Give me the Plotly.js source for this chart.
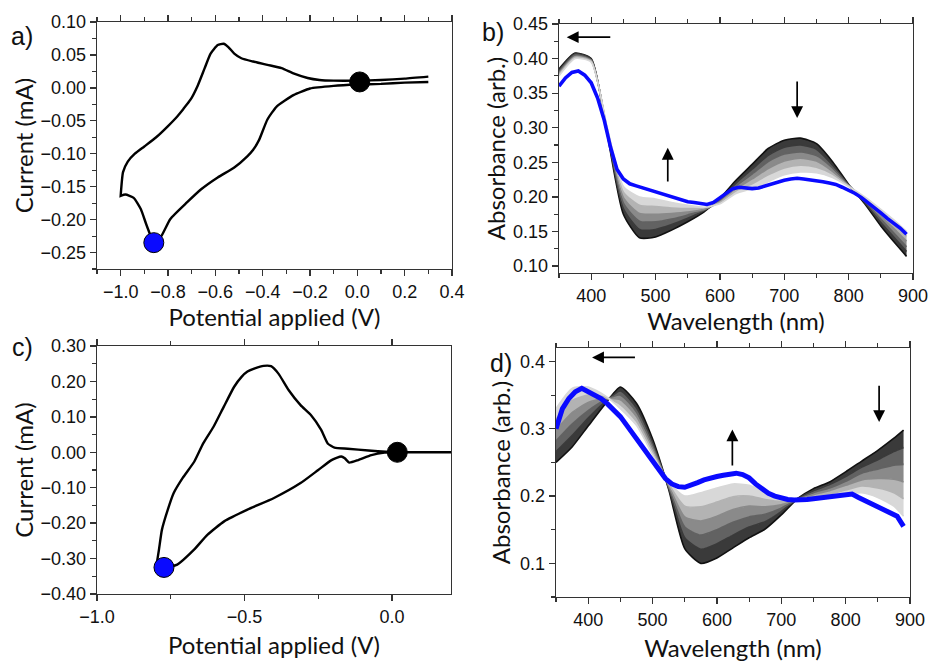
<!DOCTYPE html>
<html><head><meta charset="utf-8">
<script src="https://cdn.plot.ly/plotly-3.0.1.min.js"></script>
<style>html,body{margin:0;padding:0;background:#fff}#chart{width:931px;height:662px}</style>
</head><body><div id="chart"></div>
<script>
// ---------- Panel a: cyclic voltammogram ----------
const cvA_upper_V = [0.30,0.20,0.10,0.00,-0.10,-0.16,-0.21,-0.27,-0.32,-0.38,-0.44,-0.49,-0.52,-0.545,-0.565,-0.59,-0.62,-0.645,-0.675,-0.705,-0.735,-0.76,-0.80,-0.85,-0.90,-0.94,-0.97,-0.99,-1.00];
const cvA_upper_I = [0.017,0.014,0.012,0.011,0.011,0.012,0.015,0.022,0.030,0.035,0.040,0.045,0.052,0.062,0.067,0.065,0.052,0.030,0.003,-0.018,-0.032,-0.043,-0.058,-0.075,-0.089,-0.100,-0.112,-0.128,-0.164];
const cvA_lower_V = [-1.00,-0.98,-0.945,-0.915,-0.89,-0.86,-0.83,-0.79,-0.72,-0.66,-0.59,-0.52,-0.465,-0.44,-0.415,-0.38,-0.34,-0.27,-0.20,-0.10,0.00,0.10,0.20,0.30];
const cvA_lower_I = [-0.164,-0.162,-0.167,-0.184,-0.209,-0.234,-0.226,-0.199,-0.174,-0.154,-0.136,-0.121,-0.104,-0.094,-0.079,-0.048,-0.028,-0.011,-0.001,0.003,0.005,0.006,0.008,0.009];
const cvA_startPt = [0.01, 0.009];
const cvA_endPt = [-0.86, -0.235];

// ---------- Panel c: cyclic voltammogram ----------
const cvC_upper_V = [0.20,0.02,-0.08,-0.15,-0.195,-0.218,-0.24,-0.275,-0.31,-0.35,-0.385,-0.41,-0.435,-0.465,-0.49,-0.51,-0.535,-0.57,-0.605,-0.64,-0.67,-0.71,-0.74,-0.76,-0.78,-0.79,-0.798];
const cvC_upper_I = [0.000,0.000,0.005,0.010,0.013,0.025,0.063,0.105,0.133,0.175,0.222,0.243,0.244,0.237,0.228,0.213,0.185,0.129,0.072,0.025,-0.026,-0.073,-0.115,-0.162,-0.219,-0.275,-0.317];
const cvC_lower_V = [-0.798,-0.773,-0.728,-0.671,-0.626,-0.569,-0.49,-0.40,-0.31,-0.25,-0.205,-0.172,-0.16,-0.145,-0.115,-0.07,-0.025,0.02,0.20];
const cvC_lower_I = [-0.317,-0.325,-0.317,-0.275,-0.233,-0.195,-0.162,-0.129,-0.087,-0.050,-0.022,-0.012,-0.017,-0.029,-0.022,-0.008,-0.001,0.000,0.000];
const cvC_startPt = [0.018, 0.0];
const cvC_endPt = [-0.773, -0.325];

// ---------- Spectra wavelength grids ----------
const wl = [350,360,370,380,390,400,410,420,430,440,450,460,470,480,490,500,510,520,530,540,550,560,570,580,590,600,610,620,630,640,650,660,670,680,690,700,710,720,730,740,750,760,770,780,790,800,810,820,830,840,850,860,870,880,890];
const wlG = [350,375,400,425,450,475,500,525,550,575,600,625,650,675,700,725,750,775,800,825,850,875,890];

// ---------- Panel b spectra (black = first, lightest = last gray) ----------
const specB_g0 = [0.385,0.408,0.400,0.290,0.175,0.141,0.142,0.152,0.164,0.178,0.198,0.224,0.247,0.270,0.282,0.285,0.277,0.251,0.218,0.190,0.158,0.130,0.114];
const specB_g1 = [0.383,0.407,0.399,0.292,0.183,0.153,0.153,0.160,0.169,0.180,0.196,0.220,0.240,0.260,0.272,0.275,0.269,0.246,0.217,0.192,0.163,0.137,0.121];
const specB_g2 = [0.381,0.405,0.398,0.294,0.191,0.165,0.164,0.168,0.174,0.181,0.195,0.216,0.233,0.251,0.262,0.265,0.260,0.242,0.217,0.194,0.168,0.143,0.128];
const specB_g3 = [0.379,0.403,0.397,0.296,0.199,0.176,0.175,0.176,0.178,0.182,0.193,0.212,0.226,0.241,0.252,0.256,0.252,0.237,0.216,0.196,0.172,0.150,0.136];
const specB_g4 = [0.377,0.402,0.396,0.298,0.207,0.188,0.186,0.184,0.183,0.184,0.192,0.209,0.219,0.232,0.242,0.246,0.243,0.233,0.216,0.198,0.177,0.156,0.143];
const specB_g5 = [0.375,0.400,0.395,0.300,0.215,0.200,0.197,0.192,0.188,0.185,0.190,0.205,0.212,0.222,0.232,0.236,0.235,0.228,0.215,0.200,0.182,0.163,0.150];
const specB_blue = [0.360,0.372,0.380,0.382,0.376,0.365,0.343,0.312,0.272,0.240,0.226,0.219,0.216,0.213,0.211,0.208,0.205,0.202,0.199,0.196,0.193,0.192,0.190,0.189,0.192,0.199,0.206,0.212,0.214,0.213,0.212,0.213,0.216,0.219,0.222,0.224,0.226,0.227,0.226,0.225,0.224,0.222,0.220,0.218,0.214,0.210,0.205,0.199,0.192,0.185,0.177,0.169,0.162,0.155,0.146];

// ---------- Panel d spectra ----------
const specD_g0 = [0.250,0.273,0.304,0.335,0.362,0.338,0.285,0.210,0.122,0.100,0.108,0.123,0.138,0.151,0.172,0.196,0.211,0.221,0.236,0.252,0.268,0.286,0.298];
const specD_g1 = [0.266,0.290,0.316,0.339,0.356,0.331,0.280,0.212,0.138,0.121,0.129,0.142,0.154,0.162,0.177,0.196,0.208,0.217,0.229,0.243,0.254,0.266,0.272];
const specD_g2 = [0.282,0.307,0.327,0.342,0.350,0.325,0.275,0.214,0.154,0.142,0.150,0.161,0.169,0.173,0.182,0.195,0.205,0.212,0.222,0.234,0.240,0.246,0.247];
const specD_g3 = [0.298,0.324,0.339,0.345,0.343,0.318,0.271,0.216,0.169,0.163,0.170,0.180,0.185,0.184,0.187,0.195,0.202,0.208,0.216,0.224,0.226,0.225,0.221];
const specD_g4 = [0.314,0.342,0.350,0.347,0.336,0.311,0.266,0.218,0.185,0.184,0.191,0.199,0.200,0.195,0.192,0.194,0.199,0.203,0.209,0.215,0.212,0.205,0.196];
const specD_g5 = [0.330,0.360,0.362,0.350,0.330,0.305,0.262,0.220,0.200,0.205,0.212,0.218,0.216,0.206,0.197,0.194,0.196,0.199,0.203,0.205,0.198,0.185,0.170];
const specD_blue = [0.300,0.330,0.345,0.355,0.360,0.355,0.350,0.345,0.337,0.327,0.318,0.305,0.292,0.280,0.266,0.252,0.238,0.226,0.218,0.214,0.213,0.216,0.220,0.224,0.227,0.229,0.231,0.233,0.234,0.232,0.227,0.218,0.210,0.204,0.200,0.197,0.195,0.194,0.194,0.195,0.196,0.197,0.198,0.199,0.200,0.202,0.203,0.198,0.193,0.190,0.185,0.180,0.175,0.170,0.155];

// ---------- Arrow annotations (data coords: [x_tail, y_tail, x_head, y_head]) ----------
const arrowsB = [[432,0.431,362,0.431],[519,0.220,519,0.271],[720,0.369,720,0.314]];
const arrowsD = [[475,0.406,406,0.406],[624,0.243,624,0.299],[852,0.366,852,0.310]];

const grayColors = ['#111111','#3a3a3a','#626262','#8a8a8a','#b3b3b3','#d8d8d8'];
const BLUE = '#0a0aff';

const traces = [];
function cv(xa, ya, uV, uI, lV, lI, sPt, ePt){
  traces.push({x: uV.concat(lV), y: uI.concat(lI), xaxis: xa, yaxis: ya, mode:'lines',
    line:{color:'#000', width:2.4, shape:'spline', smoothing:0.5}, showlegend:false, hoverinfo:'skip'});
  traces.push({x:[sPt[0]], y:[sPt[1]], xaxis:xa, yaxis:ya, mode:'markers',
    marker:{color:'#000', size:20, line:{color:'#000', width:1}}, showlegend:false});
  traces.push({x:[ePt[0]], y:[ePt[1]], xaxis:xa, yaxis:ya, mode:'markers',
    marker:{color:BLUE, size:20, line:{color:'#000', width:1}}, showlegend:false});
}
function spec(xa, ya, grays, blue, bw){
  grays.forEach((g,i)=>{
    traces.push({x: wlG, y: g, xaxis:xa, yaxis:ya, mode:'lines',
      line:{color:grayColors[i], width:1.6, shape:'spline', smoothing:0.6},
      fill: i===0 ? 'none' : 'tonexty', fillcolor: grayColors[i],
      showlegend:false, hoverinfo:'skip'});
  });
  traces.push({x: wl, y: blue, xaxis:xa, yaxis:ya, mode:'lines',
    line:{color:BLUE, width:bw}, showlegend:false, hoverinfo:'skip'});
}
cv('x','y', cvA_upper_V, cvA_upper_I, cvA_lower_V, cvA_lower_I, cvA_startPt, cvA_endPt);
spec('x2','y2', [specB_g0,specB_g1,specB_g2,specB_g3,specB_g4,specB_g5], specB_blue, 3.6);
cv('x3','y3', cvC_upper_V, cvC_upper_I, cvC_lower_V, cvC_lower_I, cvC_startPt, cvC_endPt);
spec('x4','y4', [specD_g0,specD_g1,specD_g2,specD_g3,specD_g4,specD_g5], specD_blue, 5);

const W = 931, H = 662;
const tickFont = {family:'Liberation Sans, Arial, sans-serif', size:18, color:'#111'};
const titleFont = {family:'Lato, Open Sans, sans-serif', size:24, color:'#111'};
function xax(px0, px1, range, dtick, mdtick, fmt, title, standoff){
  return {domain:[px0/W, px1/W], range: range, dtick: dtick, tick0: 0, tickformat: fmt,
    ticks:'outside', ticklen:6, tickwidth:1.3, tickcolor:'#333',
    minor:{dtick: mdtick, ticks:'outside', ticklen:3.5, tickwidth:1.1, tickcolor:'#333'},
    showline:true, linecolor:'#333', linewidth:1.3, mirror:'ticks', showgrid:false, zeroline:false,
    tickfont: tickFont, title:{text:title, font:titleFont, standoff: standoff}, automargin:false};
}
function yax(py0, py1, range, dtick, mdtick, fmt, title, standoff){
  return {domain:[1-py1/H, 1-py0/H], range: range, dtick: dtick, tick0: 0, tickformat: fmt,
    ticks:'outside', ticklen:6, tickwidth:1.3, tickcolor:'#333',
    minor:{dtick: mdtick, ticks:'outside', ticklen:3.5, tickwidth:1.1, tickcolor:'#333'},
    showline:true, linecolor:'#333', linewidth:1.3, mirror:true, showgrid:false, zeroline:false,
    tickfont: tickFont, title:{text:title, font:titleFont, standoff: standoff}, automargin:false};
}

const annotations = [];
function arrows(list, xr, yr){
  list.forEach(a=>annotations.push({x:a[2], y:a[3], ax:a[0], ay:a[1], xref:xr, yref:yr, axref:xr, ayref:yr,
    showarrow:true, arrowhead:2, arrowsize:1.4, arrowwidth:1.7, arrowcolor:'#000', text:''}));
}
arrows(arrowsB,'x2','y2');
arrows(arrowsD,'x4','y4');
const panelLabels = [['a)',22,36],['b)',493,32],['c)',22,347],['d)',501,363]];
panelLabels.forEach(p=>annotations.push({text:p[0], x:p[1]/W, y:1-p[2]/H, xref:'paper', yref:'paper',
  showarrow:false, xanchor:'center', yanchor:'middle', font:{family:'Liberation Sans, Arial, sans-serif', size:25, color:'#111'}}));

const layout = {
  width: W, height: H, margin:{l:0,r:0,t:0,b:0}, paper_bgcolor:'#fff', plot_bgcolor:'#fff', showlegend:false,
  xaxis: xax(97,452,[-1.1,0.4],0.2,0.1,'.1f','Potential applied (V)',6),
  yaxis: yax(22,269,[-0.275,0.10],0.05,0.025,'.2f','Current (mA)',0),
  xaxis2: xax(559,913,[350,900],100,50,'d','Wavelength (nm)',8),
  yaxis2: yax(24,273,[0.09,0.45],0.05,0.025,'.2f','Absorbance (arb.)',0),
  xaxis3: xax(97,451,[-1.0,0.2],0.5,0.25,'.1f','Potential applied (V)',11),
  yaxis3: yax(346,594,[-0.40,0.30],0.1,0.05,'.2f','Current (mA)',0),
  xaxis4: xax(556,910,[350,900],100,50,'d','Wavelength (nm)',12),
  yaxis4: yax(348,597,[0.05,0.42],0.1,0.05,'.1f','Absorbance (arb.)',2),
  annotations: annotations
};
layout.xaxis.anchor='y'; layout.yaxis.anchor='x';
layout.xaxis2.anchor='y2'; layout.yaxis2.anchor='x2';
layout.xaxis3.anchor='y3'; layout.yaxis3.anchor='x3';
layout.xaxis4.anchor='y4'; layout.yaxis4.anchor='x4';
layout.xaxis.tick0 = -1.0;
Plotly.newPlot('chart', traces, layout, {displayModeBar:false, staticPlot:true});
</script></body></html>
